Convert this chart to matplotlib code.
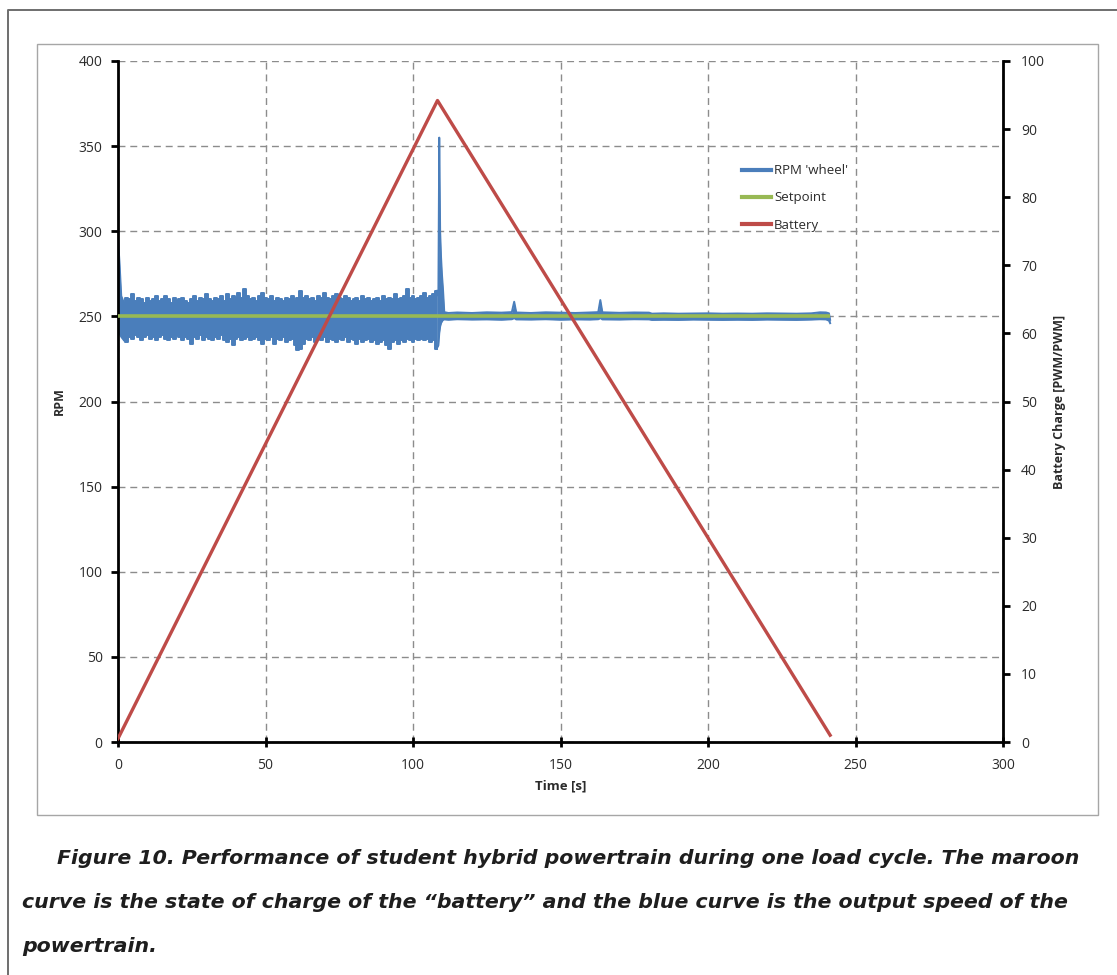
import matplotlib
matplotlib.use("Agg")
import matplotlib.pyplot as plt
from matplotlib.lines import Line2D
from matplotlib.patches import Rectangle

# ---- data -------------------------------------------------------------
# wheel speed band (upper / lower envelope of the noisy RPM trace)
rpm_time = [0, 0.5, 1.1, 2, 3, 4, 5, 6, 7, 8, 9, 10, 11, 12, 13, 14, 15, 16, 17, 18, 19,
            20, 21, 22, 23, 24, 25, 26, 27, 28, 29, 30, 31, 32, 33, 34, 35, 36, 37, 38, 39,
            40, 41, 42, 43, 44, 45, 46, 47, 48, 49, 50, 51, 52, 53, 54, 55, 56, 57, 58, 59,
            60, 61, 62, 63, 64, 65, 66, 67, 68, 69, 70, 71, 72, 73, 74, 75, 76, 77, 78, 79,
            80, 81, 82, 83, 84, 85, 86, 87, 88, 89, 90, 91, 92, 93, 94, 95, 96, 97, 98, 99,
            100, 101, 102, 103, 104, 105, 106, 107, 108, 108.6, 108.9, 109.2, 109.5, 109.8,
            110.2, 110.6, 112, 115, 120, 125, 130, 133.5, 134.3, 135, 140, 145, 150, 155,
            160, 162.8, 163.5, 164.2, 170, 175, 180, 181, 185, 190, 195, 200, 205, 210, 215,
            220, 225, 230, 235, 238, 240, 241, 241.4]
rpm_high = [295, 282, 262, 258, 261, 260, 263, 259, 261, 260, 258, 261, 259, 260, 262, 259, 260, 262, 260, 258, 261,
            259, 260, 261, 259, 258, 260, 262, 259, 261, 260, 263, 260, 259, 261, 260, 262, 259, 263, 260, 262,
            261, 264, 261, 266, 262, 260, 261, 259, 262, 264, 261, 260, 262, 259, 261, 260, 259, 261, 260, 262,
            259, 261, 265, 261, 262, 260, 261, 259, 262, 261, 264, 261, 260, 262, 263, 261, 260, 262, 261, 259,
            260, 261, 259, 262, 260, 261, 259, 260, 261, 259, 262, 260, 261, 260, 263, 260, 261, 262, 266, 261,
            262, 260, 261, 262, 264, 261, 262, 263, 265, 262, 355, 300, 285, 275,
            265, 252.5, 252, 252.3, 252, 252.4, 252.2, 252.5, 258.6, 252.3, 252, 252.4, 252.2, 252,
            252.3, 252.5, 259.6, 252.4, 252.1, 252.3, 252.2, 251.6, 251.8, 251.6, 251.7, 251.8, 251.6, 251.7, 251.6,
            251.8, 251.7, 251.6, 251.8, 252.4, 252.3, 251.8, 248]
rpm_low = [248, 240, 238, 236, 235, 238, 237, 239, 238, 236, 238, 239, 237, 238, 236, 238, 239, 237, 236, 238, 237,
           239, 238, 236, 238, 237, 234, 238, 237, 239, 236, 238, 237, 236, 238, 237, 239, 236, 235, 237, 233,
           237, 238, 236, 237, 238, 236, 237, 238, 236, 234, 237, 236, 238, 234, 237, 236, 238, 235, 236, 237,
           233, 230, 231, 234, 237, 236, 238, 235, 237, 236, 238, 235, 237, 236, 235, 237, 236, 238, 235, 237,
           236, 234, 237, 235, 236, 237, 235, 236, 234, 235, 236, 233, 231, 235, 236, 234, 236, 235, 237, 236,
           235, 237, 236, 237, 236, 237, 235, 236, 231, 233, 240, 244, 246, 247,
           248, 248.2, 248, 248.3, 248.1, 248.2, 248, 248.3, 249, 248.2, 248.1, 248.3, 248, 248.2,
           248.1, 248.3, 249, 248.2, 248.1, 248.3, 248.2, 247.9, 248, 247.9, 248.1, 248, 247.9, 248, 247.9,
           248.1, 248, 247.9, 248.1, 248.3, 248.2, 247.5, 246]

# controller setpoint
setpoint_time = [0, 241.4]
setpoint_rpm = [250, 250]

# battery state of charge
battery_time = [0, 108.3, 241.4]
battery_charge = [0.5, 94.2, 1.0]

x_ticks = [0, 50, 100, 150, 200, 250, 300]
rpm_ticks = [0, 50, 100, 150, 200, 250, 300, 350, 400]
charge_ticks = [0, 10, 20, 30, 40, 50, 60, 70, 80, 90, 100]

caption_lines = [
    "Figure 10. Performance of student hybrid powertrain during one load cycle. The maroon",
    "curve is the state of charge of the \u201cbattery\u201d and the blue curve is the output speed of the",
    "powertrain.",
]

# ---- styling ------------------------------------------------------------
BLUE = "#4a7ebb"
GREEN = "#98b954"
RED = "#be4b48"
GRID = "#8c8c8c"
TXT = "#2b2b2b"
W, H = 1117, 975

plt.rcParams["font.family"] = ["Open Sans", "DejaVu Sans"]

fig = plt.figure(figsize=(W / 100, H / 100), dpi=100)

def fx(px):
    return px / W

def fy(py):
    return 1 - py / H

# outer frame (top and left edges visible) and inner chart-area frame
fig.add_artist(Line2D([fx(8), fx(8), 1.0], [0.0, fy(10), fy(10)],
                      transform=fig.transFigure, color="#6e6e6e", lw=1.4))
fig.add_artist(Rectangle((fx(37), fy(815)), fx(1098) - fx(37), fy(44) - fy(815),
                         transform=fig.transFigure, fill=False, ec="#a6a6a6", lw=1.0))

ax = fig.add_axes([fx(118), fy(742), fx(1003) - fx(118), fy(61) - fy(742)])
ax2 = ax.twinx()

# RPM band: the noisy stretch is drawn as steps, the transients and the
# settled stretch as straight segments
i0 = rpm_time.index(2)
i1 = rpm_time.index(108)
segments = [(0, i0 + 1, None), (i0, i1 + 1, "mid"), (i1, len(rpm_time), None)]
for a, b, step in segments:
    tt, hi, lo = rpm_time[a:b], rpm_high[a:b], rpm_low[a:b]
    ax.fill_between(tt, lo, hi, color=BLUE, lw=0, zorder=2, step=step)
    ds = "steps-mid" if step else "default"
    ax.plot(tt, hi, color=BLUE, lw=1.4, zorder=2, drawstyle=ds)
    ax.plot(tt, lo, color=BLUE, lw=1.4, zorder=2, drawstyle=ds)
ax.plot(setpoint_time, setpoint_rpm, color=GREEN, lw=2.6, zorder=3, solid_capstyle="butt")

ax2.plot(battery_time, battery_charge, color=RED, lw=2.4, zorder=4)

ax.set_xlim(0, 300)
ax.set_ylim(0, 400)
ax2.set_ylim(0, 100)
ax.set_xticks(x_ticks)
ax.set_yticks(rpm_ticks)
ax2.set_yticks(charge_ticks)

ax.grid(True, color=GRID, ls=(0, (5, 3.5)), lw=1.0)
ax.set_axisbelow(True)

for a in (ax, ax2):
    a.spines["top"].set_visible(False)
    a.patch.set_visible(False)
ax.spines["left"].set_linewidth(2.0)
ax.spines["bottom"].set_linewidth(2.0)
ax2.spines["right"].set_linewidth(2.0)
ax2.spines["left"].set_visible(False)
ax2.spines["bottom"].set_visible(False)

ax.tick_params(axis="y", direction="out", length=5, width=2, labelsize=10, labelcolor=TXT, pad=6)
ax.tick_params(axis="x", direction="inout", length=7, width=2, labelsize=10, labelcolor=TXT, pad=8)
ax2.tick_params(axis="y", direction="out", length=5, width=2, labelsize=10, labelcolor=TXT, pad=8)

ax.set_xlabel("Time [s]", fontsize=9.5, fontweight="bold", color=TXT, labelpad=5)
ax.set_ylabel("RPM", fontsize=9, fontweight="bold", color=TXT, labelpad=9)
ax2.set_ylabel("Battery Charge [PWM/PWM]", fontsize=9, fontweight="bold", color=TXT, labelpad=6)

handles = [Line2D([], [], color=BLUE, lw=3), Line2D([], [], color=GREEN, lw=3),
           Line2D([], [], color=RED, lw=3)]
leg = ax2.legend(handles, ["RPM 'wheel'", "Setpoint", "Battery"], loc="upper left",
                 bbox_to_anchor=(fx(733), fy(155)), bbox_transform=fig.transFigure,
                 frameon=False, fontsize=9.5, handlelength=2.2, handletextpad=0.2,
                 labelspacing=1.08, borderpad=0.2)
for t in leg.get_texts():
    t.set_color(TXT)

# caption, sized so the first line spans its full measure
cap_y = [858, 902, 946]
cap_x = [57, 22, 22]
cap_font = ["DejaVu Sans"]
renderer = fig.canvas.get_renderer()
probe = fig.text(0, 0, caption_lines[0], fontsize=14, fontweight="bold",
                 fontstyle="italic", family=cap_font)
width_px = probe.get_window_extent(renderer).width
probe.remove()
cap_size = 14 * (1082 - 57) / width_px
for line, x, y in zip(caption_lines, cap_x, cap_y):
    fig.text(fx(x), fy(y), line, fontsize=cap_size, fontweight="bold", fontstyle="italic",
             family=cap_font, color="#1e1e1e", va="center", ha="left")

fig.savefig("out.png", dpi=100)
